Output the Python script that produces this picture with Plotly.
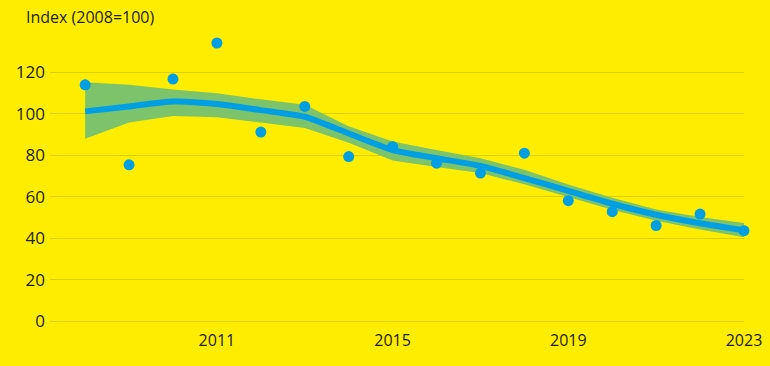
import plotly.graph_objects as go

years = list(range(2008, 2024))
observed = [114, 75.4, 116.8, 134.2, 91.2, 103.6, 79.4, 84.2, 76.2, 71.4, 81.0, 58.1, 52.8, 46.1, 51.6, 43.6]
trend = [101.2, 103.6, 106.0, 104.8, 101.8, 98.6, 90.5, 82.5, 78.6, 74.9, 69.0, 62.8, 56.6, 51.3, 47.2, 43.8]
upper = [115.2, 114.0, 111.8, 110.0, 107.0, 104.4, 94.0, 86.7, 82.6, 78.6, 73.0, 65.9, 59.5, 53.8, 50.2, 47.3]
lower = [88.0, 95.8, 99.0, 98.4, 95.8, 93.2, 86.0, 77.5, 74.4, 71.4, 66.0, 59.8, 53.7, 48.4, 44.2, 40.4]
x_ticks = [2011, 2015, 2019, 2023]
y_ticks = [0, 20, 40, 60, 80, 100, 120]

BG = "#FFED00"
BLUE = "#009FE3"
GREEN = "#7DC36B"
GRID = "#DDD000"
TEXT = "#1E1E1E"

fig = go.Figure()
fig.add_trace(go.Scatter(x=years, y=upper, mode="lines", line=dict(width=0, color=GREEN),
                         hoverinfo="skip", showlegend=False))
fig.add_trace(go.Scatter(x=years, y=lower, mode="lines", line=dict(width=0, color=GREEN),
                         fill="tonexty", fillcolor=GREEN, hoverinfo="skip", showlegend=False))
fig.add_trace(go.Scatter(x=years, y=trend, mode="lines", line=dict(width=6, color=BLUE, shape="spline", smoothing=0.6),
                         showlegend=False))
fig.add_trace(go.Scatter(x=years, y=observed, mode="markers", marker=dict(size=11, color=BLUE),
                         showlegend=False, cliponaxis=False))

fig.update_layout(
    width=770, height=366,
    paper_bgcolor=BG, plot_bgcolor=BG,
    margin=dict(l=50, r=26, t=31, b=45, autoexpand=False),
    font=dict(family="Open Sans, Lato, sans-serif", size=14, color=TEXT),
    showlegend=False,
    annotations=[dict(text="Index (2008=100)", xref="paper", yref="paper", x=-0.0374, y=1.0,
                      xanchor="left", yanchor="middle", yshift=14, showarrow=False,
                      font=dict(size=16, color=TEXT))],
)
fig.update_xaxes(range=[2007.2, 2023.0], tickvals=x_ticks, showgrid=False, zeroline=False,
                 showline=False, ticks="", ticklabelstandoff=8, automargin=False,
                 tickfont=dict(size=16, color=TEXT))
fig.update_yaxes(range=[0, 140], tickvals=y_ticks, showgrid=True, gridcolor=GRID, gridwidth=1,
                 zeroline=True, zerolinecolor=GRID, zerolinewidth=1, automargin=False,
                 showline=False, ticks="", ticklabelstandoff=4, tickfont=dict(size=17, color=TEXT))

fig.write_html("out.html", config={"displayModeBar": False},
               post_script="document.body.style.margin='0';document.body.style.padding='0';")
